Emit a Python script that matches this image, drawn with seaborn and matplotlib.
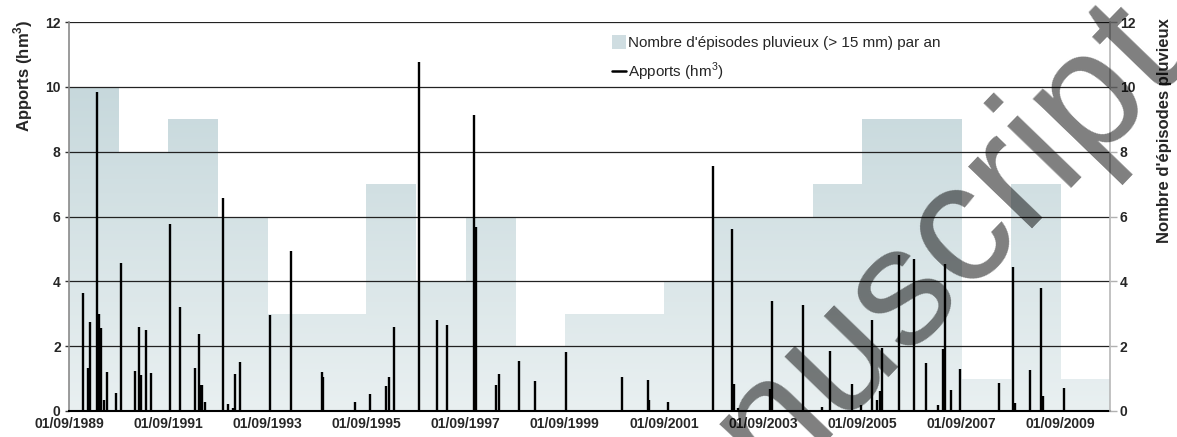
import matplotlib
matplotlib.use("Agg")
import matplotlib.pyplot as plt
import matplotlib.dates as mdates
from matplotlib.colors import LinearSegmentedColormap
from matplotlib.patches import Patch
from matplotlib.lines import Line2D
import seaborn as sns
import numpy as np
import pandas as pd

# annees hydrologiques (debut au 01/09) et nombre d'episodes > 15 mm
annees = list(range(1989, 2010))
episodes = [10, 8, 9, 6, 3, 3, 7, 4, 6, 2, 3, 3, 4, 6, 6, 7, 9, 9, 1, 7, 1]

# apports (hm3) par evenement
dates_apports = [
    "1989-12-15", "1990-01-21", "1990-02-05", "1990-03-24", "1990-04-12",
    "1990-04-26", "1990-05-14", "1990-06-10", "1990-08-15", "1990-09-16",
    "1991-01-01", "1991-01-31", "1991-02-10", "1991-03-26", "1991-04-27",
    "1991-09-18", "1991-11-28", "1992-03-15", "1992-04-16", "1992-05-03",
    "1992-05-11", "1992-05-30", "1992-10-09", "1992-11-18", "1992-12-22",
    "1993-01-03", "1993-02-09", "1993-09-20", "1994-02-24", "1994-10-10",
    "1994-10-19", "1995-06-11", "1995-09-30", "1996-01-23", "1996-02-16",
    "1996-03-19", "1996-09-24", "1997-02-05", "1997-04-15", "1997-11-02",
    "1997-11-15", "1998-04-11", "1998-05-03", "1998-09-27", "1999-01-27",
    "1999-09-14", "2000-10-27", "2001-05-06", "2001-05-17", "2001-09-30",
    "2002-08-27", "2003-01-14", "2003-01-31", "2003-02-27", "2003-10-20",
    "2003-11-04", "2004-06-24", "2004-11-12", "2005-01-08", "2005-06-17",
    "2005-08-26", "2005-11-11", "2005-12-17", "2006-01-11", "2006-01-27",
    "2006-05-28", "2006-09-15", "2006-12-17", "2007-03-11", "2007-04-16",
    "2007-05-03", "2007-06-19", "2007-08-22", "2008-06-05", "2008-09-16",
    "2008-10-01", "2009-01-17", "2009-04-10", "2009-04-25", "2009-09-29",
]
apports = [
    3.63, 1.33, 2.75, 9.85, 3.00,
    2.55, 0.34, 1.19, 0.55, 4.56,
    1.23, 2.58, 1.11, 2.49, 1.16,
    5.76, 3.20, 1.32, 2.37, 0.80,
    0.80, 0.27, 6.58, 0.22, 0.08,
    1.13, 1.50, 2.96, 4.94, 1.21,
    1.04, 0.28, 0.52, 0.77, 1.04,
    2.58, 10.78, 2.81, 2.64, 9.14,
    5.69, 0.80, 1.13, 1.54, 0.93,
    1.81, 1.04, 0.96, 0.34, 0.28,
    7.56, 5.62, 0.83, 0.10, 0.68,
    3.40, 3.26, 0.13, 1.85, 0.83,
    0.19, 2.81, 0.34, 0.62, 1.93,
    4.81, 4.68, 1.47, 0.19, 1.90,
    4.53, 0.65, 1.29, 0.85, 4.45,
    0.26, 1.27, 3.80, 0.47, 0.70,
]

y_ticks = [0, 2, 4, 6, 8, 10, 12]

sns.set_style("white")
plt.rcParams['font.family'] = ['Liberation Sans', 'DejaVu Sans']
plt.rcParams['mathtext.fontset'] = 'custom'
plt.rcParams['mathtext.rm'] = 'Liberation Sans'
plt.rcParams['mathtext.bf'] = 'Liberation Sans:bold'

debuts = pd.to_datetime([f"{a}-09-01" for a in annees + [annees[-1] + 1]])
bords = mdates.date2num(debuts)
x_apports = mdates.date2num(pd.to_datetime(dates_apports))

df_ep = pd.DataFrame({"milieu": (bords[:-1] + bords[1:]) / 2, "episodes": episodes})

fig = plt.figure(figsize=(11.77, 4.37), dpi=100)
ax = fig.add_axes([69 / 1177, 26 / 437, 1041 / 1177, 389 / 437])

# episodes pluvieux : histogramme pondere, une classe par annee hydrologique
sns.histplot(data=df_ep, x="milieu", weights="episodes", bins=list(bords),
             color="#d2e0e3", alpha=1, linewidth=0, ax=ax, zorder=1)

# degrade vertical dans les barres
degrade = LinearSegmentedColormap.from_list("deg", ["#e9f0f1", "#c5d7db"])
grad = np.linspace(0, 1, 256).reshape(-1, 1)
for p in list(ax.patches):
    im = ax.imshow(grad, cmap=degrade, origin="lower", aspect="auto",
                   extent=[bords[0], bords[-1], 0, 10.5], zorder=1.5)
    im.set_clip_path(p)

# grille
for v in y_ticks[1:]:
    ax.axhline(v, color="#222222", lw=0.9, zorder=2)

# apports
ax.vlines(x_apports, 0, apports, color="black", lw=1.7, zorder=4)

ax.set_xlim(bords[0], bords[-1])
ax.set_ylim(0, 12)
ax.set_xlabel("")
ax.set_ylabel(r"Apports (hm$^{\mathbf{3}}$)", fontsize=12, fontweight="bold")
ax.yaxis.set_label_coords(-0.033, 0.862)

ax.set_xticks(bords[:-1][::2])
ax.set_xticklabels([d.strftime("%d/%m/%Y") for d in debuts[:-1][::2]],
                   fontsize=10, fontweight="bold")
ax.set_yticks(y_ticks)
ax.set_yticklabels([str(v) for v in y_ticks], fontsize=10, fontweight="bold")
ax.tick_params(axis="x", direction="inout", length=7, width=1.3, color="black", pad=1)
ax.tick_params(axis="y", direction="out", length=3, width=1, color="#333333", pad=3, left=True)

for s in ["top", "right"]:
    ax.spines[s].set_visible(False)
ax.spines["left"].set_color("#8a8a8a")
ax.spines["left"].set_linewidth(1.2)
ax.spines["bottom"].set_color("black")
ax.spines["bottom"].set_linewidth(1.5)
ax.spines["bottom"].set_zorder(5)

ax2 = ax.twinx()
ax2.set_ylim(0, 12)
ax2.set_yticks(y_ticks)
ax2.set_yticklabels([str(v) for v in y_ticks], fontsize=10, fontweight="bold")
ax2.tick_params(axis="y", direction="out", length=5, width=1, color="#b0b0b0", pad=2, right=True)
ax2.set_ylabel("Nombre d'épisodes pluvieux", fontsize=12, fontweight="bold")
ax2.yaxis.set_label_coords(1.045, 0.722)
for s in ["top", "left", "bottom"]:
    ax2.spines[s].set_visible(False)
ax2.spines["right"].set_color("#b8b8b8")
ax2.spines["right"].set_linewidth(1.2)

poignees = [Patch(facecolor="#cfdde1", edgecolor="none"),
            Line2D([0], [0], color="black", lw=1.8)]
etiquettes = ["Nombre d'épisodes pluvieux (> 15 mm) par an", r"Apports (hm$^{3}$)"]
fig.legend(poignees, etiquettes, loc="upper left",
           bbox_to_anchor=(612 / 1177, 1 - 35 / 437), bbox_transform=fig.transFigure,
           frameon=False, fontsize=11, handlelength=0.9, handleheight=1.0,
           handletextpad=0.15, labelspacing=0.7, borderpad=0, borderaxespad=0)

# filigrane
fig.text(866 / 1177, 1 - 326 / 437, "manuscript", rotation=46, fontsize=122,
         color="black", alpha=0.5, ha="center", va="center",
         rotation_mode="anchor", zorder=10)

fig.savefig("out.png", dpi=100)
